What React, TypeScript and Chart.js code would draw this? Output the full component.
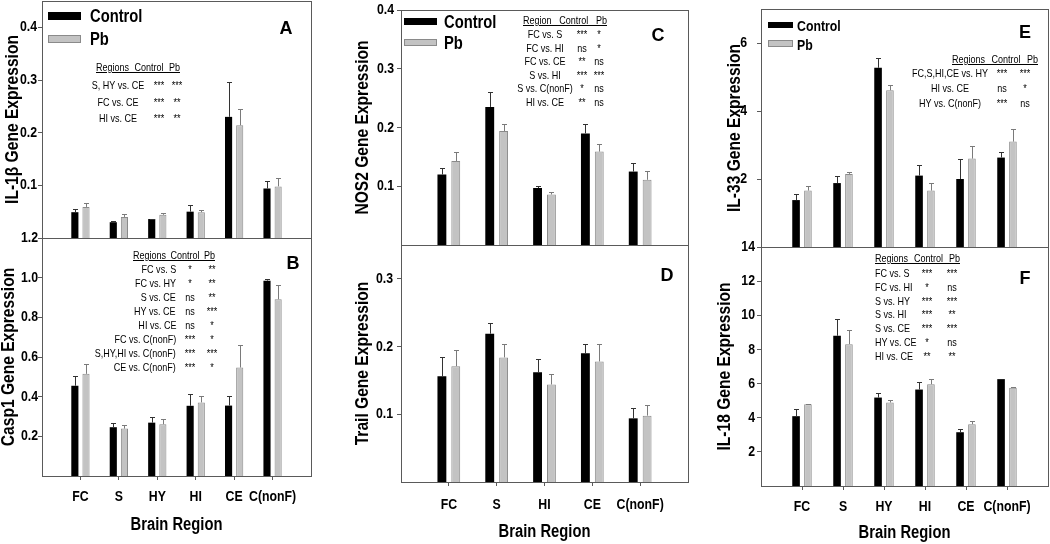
import React, { useEffect, useRef } from 'react';
import { Chart, registerables } from 'chart.js';
Chart.register(...registerables);

const FONT = "'Liberation Sans', Arial, sans-serif";
const SQ = 0.82; // horizontal condensing of glyphs (narrow face emulation)

// ---------- data ----------
const regions6 = ['FC', 'S', 'HY', 'HI', 'CE', 'C(nonF)'];
const regions5 = ['FC', 'S', 'HI', 'CE', 'C(nonF)'];

const il1bControl = [0.049, 0.030, 0.036, 0.050, 0.230, 0.094];
const il1bControlSE = [0.006, 0.003, 0.001, 0.012, 0.066, 0.015];
const il1bPb = [0.059, 0.040, 0.044, 0.049, 0.214, 0.098];
const il1bPbSE = [0.008, 0.005, 0.003, 0.005, 0.031, 0.015];

const casp1Control = [0.455, 0.246, 0.269, 0.354, 0.355, 0.985];
const casp1ControlSE = [0.050, 0.022, 0.029, 0.057, 0.048, 0.010];
const casp1Pb = [0.515, 0.239, 0.261, 0.371, 0.547, 0.891];
const casp1PbSE = [0.051, 0.019, 0.027, 0.032, 0.112, 0.074];

const nos2Control = [0.120, 0.235, 0.097, 0.190, 0.125];
const nos2ControlSE = [0.011, 0.025, 0.004, 0.016, 0.015];
const nos2Pb = [0.143, 0.194, 0.086, 0.159, 0.111];
const nos2PbSE = [0.015, 0.012, 0.004, 0.013, 0.015];

const trailControl = [0.156, 0.219, 0.162, 0.190, 0.094];
const trailControlSE = [0.028, 0.016, 0.020, 0.014, 0.015];
const trailPb = [0.171, 0.184, 0.144, 0.178, 0.098];
const trailPbSE = [0.024, 0.020, 0.016, 0.026, 0.015];

const il33Control = [1.38, 1.88, 5.27, 2.10, 2.00, 2.63];
const il33ControlSE = [0.18, 0.20, 0.29, 0.31, 0.59, 0.17];
const il33Pb = [1.66, 2.15, 4.61, 1.66, 2.60, 3.10];
const il33PbSE = [0.14, 0.06, 0.16, 0.21, 0.37, 0.36];

const il18Control = [4.09, 8.80, 5.18, 5.65, 3.15, 6.26];
const il18ControlSE = [0.41, 0.98, 0.25, 0.44, 0.16, 0];
const il18Pb = [4.79, 8.31, 4.89, 5.96, 3.62, 5.76];
const il18PbSE = [0.04, 0.84, 0.14, 0.33, 0.18, 0.04];

const tableA = [
  ['S, HY vs. CE', '***', '***'],
  ['FC vs. CE', '***', '**'],
  ['HI vs. CE', '***', '**'],
];
const tableB = [
  ['FC vs. S', '*', '**'],
  ['FC vs. HY', '*', '**'],
  ['S vs. CE', 'ns', '**'],
  ['HY vs. CE', 'ns', '***'],
  ['HI vs. CE', 'ns', '*'],
  ['FC vs. C(nonF)', '***', '*'],
  ['S,HY,HI vs. C(nonF)', '***', '***'],
  ['CE vs. C(nonF)', '***', '*'],
];
const tableC = [
  ['FC vs. S', '***', '*'],
  ['FC vs. HI', 'ns', '*'],
  ['FC vs. CE', '**', 'ns'],
  ['S vs. HI', '***', '***'],
  ['S vs. C(nonF)', '*', 'ns'],
  ['HI vs. CE', '**', 'ns'],
];
const tableE = [
  ['FC,S,HI,CE vs. HY', '***', '***'],
  ['HI vs. CE', 'ns', '*'],
  ['HY vs. C(nonF)', '***', 'ns'],
];
const tableF = [
  ['FC vs. S', '***', '***'],
  ['FC vs. HI', '*', 'ns'],
  ['S vs. HY', '***', '***'],
  ['S vs. HI', '***', '**'],
  ['S vs. CE', '***', '***'],
  ['HY vs. CE', '*', 'ns'],
  ['HI vs. CE', '**', '**'],
];

// ---------- plugins ----------
const errorBarPlugin = {
  id: 'errorBars',
  afterDatasetsDraw(chart: any) {
    const ctx = chart.ctx;
    const yScale = chart.scales.y;
    chart.data.datasets.forEach((ds: any, di: number) => {
      const meta = chart.getDatasetMeta(di);
      if (!ds.errors) return;
      ctx.save();
      ctx.strokeStyle = ds.errorColor;
      ctx.lineWidth = 1;
      meta.data.forEach((el: any, i: number) => {
        const v = ds.data[i];
        const e = ds.errors[i];
        if (v == null || !e) return;
        const x = Math.round(el.x) + 0.5;
        const y0 = yScale.getPixelForValue(v);
        const y1 = Math.round(yScale.getPixelForValue(v + e)) + 0.5;
        ctx.beginPath();
        ctx.moveTo(x, y0);
        ctx.lineTo(x, y1);
        ctx.moveTo(x - 2.5, y1);
        ctx.lineTo(x + 2.5, y1);
        ctx.stroke();
      });
      ctx.restore();
    });
  },
};

const framePlugin = {
  id: 'frame',
  afterDraw(chart: any) {
    const { left, top, right, bottom } = chart.chartArea;
    const ctx = chart.ctx;
    ctx.save();
    ctx.strokeStyle = '#5a5a5a';
    ctx.lineWidth = 1;
    const l = Math.round(left) + 0.5, t = Math.round(top) + 0.5;
    const r = Math.round(right) + 0.5, b = Math.round(bottom) + 0.5;
    ctx.strokeRect(l, t, r - l, b - t);
    ctx.restore();
  },
};

// ---------- panels ----------
type PanelSpec = {
  labels: string[]; ctrl: number[]; ctrlSE: number[]; pb: number[]; pbSE: number[];
  yMax: number; yStep: number; dec: number; yTitle: string; showX: boolean;
  left: number; top: number; w: number; h: number;
  pad: { left: number; top: number; right: number; bottom: number };
  yw: number; hx: number; titlePad: number; tickPad: number; xTickPad: number; xTitlePad: number;
};

const panels: PanelSpec[] = [
  { labels: regions6, ctrl: il1bControl, ctrlSE: il1bControlSE, pb: il1bPb, pbSE: il1bPbSE,
    yMax: 0.45, yStep: 0.1, dec: 1, yTitle: 'IL-1β Gene Expression', showX: false,
    left: 0, top: 0, w: 313, h: 239, pad: { left: 0, top: 1, right: 2, bottom: 1 },
    yw: 42, hx: 0, titlePad: 1.1, tickPad: 1, xTickPad: 0, xTitlePad: 0 },
  { labels: regions6, ctrl: casp1Control, ctrlSE: casp1ControlSE, pb: casp1Pb, pbSE: casp1PbSE,
    yMax: 1.2, yStep: 0.2, dec: 1, yTitle: 'Casp1 Gene Expression', showX: true,
    left: 0, top: 228, w: 313, h: 310, pad: { left: 0, top: 10, right: 2, bottom: 0 },
    yw: 42, hx: 62, titlePad: -2.4, tickPad: 0, xTickPad: 8, xTitlePad: 2 },
  { labels: regions5, ctrl: nos2Control, ctrlSE: nos2ControlSE, pb: nos2Pb, pbSE: nos2PbSE,
    yMax: 0.4, yStep: 0.1, dec: 1, yTitle: 'NOS2 Gene Expression', showX: false,
    left: 340, top: 0, w: 350, h: 246, pad: { left: 0, top: 10, right: 2, bottom: 1 },
    yw: 61, hx: 0, titlePad: 11.6, tickPad: 3, xTickPad: 0, xTitlePad: 0 },
  { labels: regions5, ctrl: trailControl, ctrlSE: trailControlSE, pb: trailPb, pbSE: trailPbSE,
    yMax: 0.35, yStep: 0.1, dec: 1, yTitle: 'Trail Gene Expression', showX: true,
    left: 340, top: 235, w: 350, h: 308, pad: { left: 0, top: 10, right: 2, bottom: 0 },
    yw: 61, hx: 61, titlePad: 11.6, tickPad: 4, xTickPad: 10, xTitlePad: 0 },
  { labels: regions6, ctrl: il33Control, ctrlSE: il33ControlSE, pb: il33Pb, pbSE: il33PbSE,
    yMax: 7, yStep: 2, dec: 0, yTitle: 'IL-33 Gene Expression', showX: false,
    left: 715, top: 0, w: 335, h: 248, pad: { left: 0, top: 9, right: 2, bottom: 1 },
    yw: 46, hx: 0, titlePad: 8.6, tickPad: 10, xTickPad: 0, xTitlePad: 0 },
  { labels: regions6, ctrl: il18Control, ctrlSE: il18ControlSE, pb: il18Pb, pbSE: il18PbSE,
    yMax: 14, yStep: 2, dec: 0, yTitle: 'IL-18 Gene Expression', showX: true,
    left: 705, top: 237, w: 345, h: 307, pad: { left: 0, top: 10, right: 2, bottom: 0 },
    yw: 56, hx: 58, titlePad: 8.6, tickPad: 2, xTickPad: 8, xTitlePad: 0 },
];

function condenseText(canvas: HTMLCanvasElement) {
  const ctx: any = canvas.getContext('2d');
  if (!ctx || ctx.__condensed) return;
  const orig = ctx.fillText.bind(ctx);
  ctx.fillText = (text: string, x: number, y: number) => {
    ctx.save();
    ctx.translate(x, y);
    ctx.scale(SQ, 1);
    orig(text, 0, 0);
    ctx.restore();
  };
  ctx.__condensed = true;
}

function Panel({ spec }: { spec: PanelSpec }) {
  const ref = useRef<HTMLCanvasElement>(null);
  useEffect(() => {
    const canvas = ref.current as HTMLCanvasElement;
    condenseText(canvas);
    const labels = ['', ...spec.labels, ''];
    const padArr = (a: number[]) => [null, ...a, null];
    const chart = new Chart(canvas, {
      type: 'bar',
      data: {
        labels,
        datasets: [
          { label: 'Control', data: padArr(spec.ctrl) as any, errors: padArr(spec.ctrlSE), errorColor: '#333333',
            backgroundColor: '#000000', borderWidth: 0, categoryPercentage: 0.58, barPercentage: 0.64 } as any,
          { label: 'Pb', data: padArr(spec.pb) as any, errors: padArr(spec.pbSE), errorColor: '#7a7a7a',
            backgroundColor: '#c3c3c3', borderColor: '#8a8a8a', borderWidth: 1,
            categoryPercentage: 0.58, barPercentage: 0.64 } as any,
        ],
      },
      options: {
        responsive: false,
        animation: false,
        devicePixelRatio: 1,
        layout: { padding: spec.pad },
        plugins: { legend: { display: false }, tooltip: { enabled: false }, title: { display: false } },
        scales: {
          x: {
            type: 'category',
            display: spec.showX,
            offset: false,
            grid: { display: true, offset: false, drawOnChartArea: false, drawTicks: true, tickLength: 4, color: '#5a5a5a' },
            border: { display: false },
            ticks: { autoSkip: false, maxRotation: 0, minRotation: 0, padding: spec.xTickPad, color: '#000',
              font: { family: FONT, size: 15, weight: 'bold' } },
            title: { display: spec.showX, text: 'Brain Region', color: '#000',
              font: { family: FONT, size: 18, weight: 'bold' }, padding: { top: 0, bottom: spec.xTitlePad } },
            afterBuildTicks: (s: any) => { s.ticks = s.ticks.filter((t: any) => labels[t.value] !== ''); },
            afterFit: (s: any) => { s.height = spec.hx; s.paddingLeft = 0; s.paddingRight = 0; },
          } as any,
          y: {
            type: 'linear',
            min: 0,
            max: spec.yMax,
            grid: { display: true, drawOnChartArea: false, drawTicks: true, tickLength: 4, color: '#5a5a5a' },
            border: { display: false },
            ticks: { stepSize: spec.yStep, padding: spec.tickPad, color: '#000',
              font: { family: FONT, size: 15, weight: 'bold' },
              callback: (v: any) => Number(v).toFixed(spec.dec) },
            title: { display: true, text: spec.yTitle, color: '#000',
              font: { family: FONT, size: 19, weight: 'bold' }, padding: { top: spec.titlePad, bottom: 0 } },
            afterBuildTicks: (s: any) => {
              s.ticks = s.ticks.filter((t: any) => {
                const q = t.value / spec.yStep;
                return t.value > 1e-9 && Math.abs(q - Math.round(q)) < 1e-6;
              });
            },
            afterFit: (s: any) => { s.width = spec.yw; s.paddingTop = 0; s.paddingBottom = 0; },
          } as any,
        },
      },
      plugins: [errorBarPlugin, framePlugin],
    });
    return () => chart.destroy();
  }, []);
  return (
    <div style={{ position: 'absolute', left: spec.left, top: spec.top, width: spec.w, height: spec.h }}>
      <canvas ref={ref} width={spec.w} height={spec.h} style={{ display: 'block' }} />
    </div>
  );
}

// ---------- overlays ----------
type TableSpec = {
  header: string; hx: number; hy: number; hw: number; rows: string[][];
  y0: number; dy: number; lx: number; align: 'left' | 'center' | 'right'; c1: number; c2: number;
};

const tables: TableSpec[] = [
  { header: 'Regions Control Pb', hx: 96, hy: 67, hw: 84, rows: tableA, y0: 85, dy: 16.5, lx: 118, align: 'center', c1: 159, c2: 177 },
  { header: 'Regions Control Pb', hx: 133, hy: 255, hw: 82, rows: tableB, y0: 269, dy: 14, lx: 176, align: 'right', c1: 190, c2: 212 },
  { header: 'Region Control Pb', hx: 523, hy: 20, hw: 84, rows: tableC, y0: 34, dy: 13.6, lx: 545, align: 'center', c1: 582, c2: 599 },
  { header: 'Regions Control Pb', hx: 952, hy: 59, hw: 86, rows: tableE, y0: 73, dy: 15, lx: 950, align: 'center', c1: 1002, c2: 1025 },
  { header: 'Regions Control Pb', hx: 875, hy: 258, hw: 85, rows: tableF, y0: 273, dy: 13.8, lx: 875, align: 'left', c1: 927, c2: 952 },
];

const TFS = 11;

function Txt({ x, y, align, children, size, bold, lh }: any) {
  const fs = size || TFS;
  const h = lh || 12;
  const base: any = { position: 'absolute', top: y - h / 2, height: h, lineHeight: `${h}px`, fontSize: fs,
    fontFamily: FONT, fontWeight: bold ? 'bold' : 'normal', whiteSpace: 'nowrap', color: '#000' };
  if (align === 'right') {
    base.right = 1050 - x; base.transformOrigin = 'right center'; base.transform = `scaleX(${SQ})`;
  } else if (align === 'center') {
    base.left = x; base.transform = `translateX(-50%) scaleX(${SQ})`; base.transformOrigin = 'center center';
  } else {
    base.left = x; base.transformOrigin = 'left center'; base.transform = `scaleX(${SQ})`;
  }
  return <div style={base}>{children}</div>;
}

function Table({ t }: { t: TableSpec }) {
  return (
    <>
      <div style={{ position: 'absolute', left: t.hx, top: t.hy - 6, width: t.hw / SQ, height: 12, lineHeight: '12px',
        fontSize: TFS, fontFamily: FONT, textDecoration: 'underline', textAlign: 'justify', textAlignLast: 'justify',
        whiteSpace: 'nowrap', color: '#000', transformOrigin: 'left center', transform: `scaleX(${SQ})` } as any}>{t.header}</div>
      {t.rows.map((r, i) => {
        const y = t.y0 + i * t.dy;
        return (
          <React.Fragment key={i}>
            <Txt x={t.lx} y={y} align={t.align}>{r[0]}</Txt>
            <Txt x={t.c1} y={y} align="center">{r[1]}</Txt>
            <Txt x={t.c2} y={y} align="center">{r[2]}</Txt>
          </React.Fragment>
        );
      })}
    </>
  );
}

type LegendSpec = { sx: number; sw: number; y1: number; h1: number; y2: number; h2: number; tx: number; c1: number; c2: number; fs: number };
const legends: LegendSpec[] = [
  { sx: 48, sw: 33, y1: 12, h1: 8, y2: 35, h2: 8, tx: 90, c1: 16, c2: 39, fs: 18 },
  { sx: 404, sw: 33, y1: 18, h1: 7, y2: 39, h2: 7, tx: 444, c1: 22, c2: 43, fs: 18 },
  { sx: 768, sw: 25, y1: 22, h1: 6, y2: 40, h2: 7, tx: 797, c1: 25, c2: 44, fs: 15 },
];

function Legend({ l }: { l: LegendSpec }) {
  return (
    <>
      <div style={{ position: 'absolute', left: l.sx, top: l.y1, width: l.sw, height: l.h1, background: '#000' }} />
      <div style={{ position: 'absolute', left: l.sx, top: l.y2, width: l.sw - 2, height: l.h2 - 2, background: '#c3c3c3', border: '1px solid #8a8a8a' }} />
      <Txt x={l.tx} y={l.c1} align="left" size={l.fs} lh={l.fs} bold>Control</Txt>
      <Txt x={l.tx} y={l.c2} align="left" size={l.fs} lh={l.fs} bold>Pb</Txt>
    </>
  );
}

const letters: [string, number, number][] = [
  ['A', 286, 28], ['B', 293, 263], ['C', 658, 35], ['D', 667, 275], ['E', 1025, 32], ['F', 1025, 278],
];

export default function App() {
  return (
    <div style={{ position: 'fixed', left: 0, top: 0, width: 1050, height: 544, overflow: 'hidden', background: '#fff' }}>
      {panels.map((p, i) => <Panel key={i} spec={p} />)}
      {tables.map((t, i) => <Table key={i} t={t} />)}
      {legends.map((l, i) => <Legend key={i} l={l} />)}
      {letters.map(([s, x, y]) => (
        <div key={s} style={{ position: 'absolute', left: x, top: y - 10, height: 20, lineHeight: '20px',
          transform: 'translateX(-50%)', fontSize: 18, fontWeight: 'bold', fontFamily: FONT, color: '#000' }}>{s}</div>
      ))}
    </div>
  );
}
